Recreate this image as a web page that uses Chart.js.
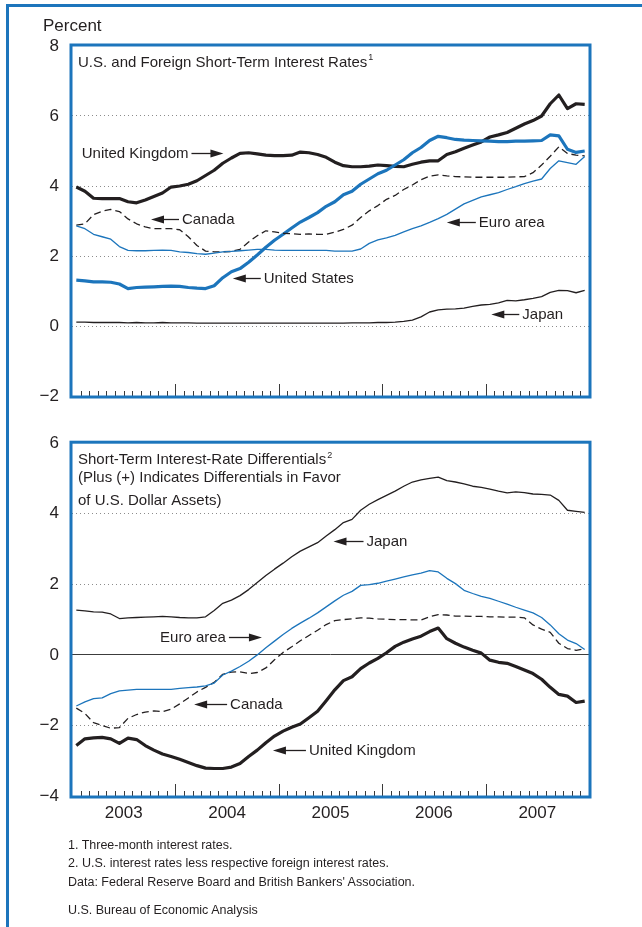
<!DOCTYPE html>
<html>
<head>
<meta charset="utf-8">
<title>U.S. and Foreign Short-Term Interest Rates</title>
<script src="https://cdn.jsdelivr.net/npm/chart.js@4.4.1/dist/chart.umd.min.js"></script>
<style>
  body { margin: 0; background: #fff; }
  #page { position: relative; width: 642px; height: 927px; overflow: hidden; font-family: "Liberation Sans", Arial, Helvetica, sans-serif; color: #231f20; }
  #frame { position: absolute; left: 6px; top: 4px; width: 700px; height: 1000px; border: 3px solid #1c75bc; }
  .txt { position: absolute; white-space: nowrap; }
  canvas { position: absolute; left: 0; }
</style>
</head>
<body>
<div id="page">
  <div id="frame"></div>
  <canvas id="rates-canvas" width="642" height="420" style="top:0"></canvas>
  <canvas id="diff-canvas" width="642" height="420" style="top:420px"></canvas>
  <div class="txt" style="left:43px; top:17px; font-size:17px; line-height:17px;">Percent</div>
  <div class="txt" style="left:68px; top:838px; font-size:12.5px; line-height:14px;">1. Three-month interest rates.</div>
  <div class="txt" style="left:68px; top:856px; font-size:12.5px; line-height:14px;">2. U.S. interest rates less respective foreign interest rates.</div>
  <div class="txt" style="left:68px; top:875px; font-size:12.5px; line-height:14px;">Data: Federal Reserve Board and British Bankers' Association.</div>
  <div class="txt" style="left:68px; top:903px; font-size:12.5px; line-height:14px;">U.S. Bureau of Economic Analysis</div>
</div>
<script>
  "use strict";

  var BLUE = "#1c75bc";
  var INK = "#231f20";
  var FONT = '"Liberation Sans", Arial, Helvetica, sans-serif';

  //-----------------------
  //- DATA (monthly, Jan 2003 - Dec 2007)
  //-----------------------

  var years = ["2003", "2004", "2005", "2006", "2007"];

  // three-month interest rates, percent
  var ukRate = [3.97, 3.85, 3.65, 3.64, 3.64, 3.64, 3.55, 3.52, 3.6, 3.7, 3.8, 3.97,
    4.0, 4.05, 4.15, 4.3, 4.45, 4.65, 4.8, 4.93, 4.95, 4.92, 4.88, 4.87,
    4.87, 4.88, 4.97, 4.95, 4.9, 4.82, 4.68, 4.58, 4.55, 4.55, 4.57, 4.6,
    4.58, 4.56, 4.55, 4.62, 4.68, 4.72, 4.72, 4.9, 4.98, 5.08, 5.17, 5.26,
    5.4, 5.46, 5.53, 5.65, 5.77, 5.87, 6.0, 6.35, 6.6, 6.21, 6.35, 6.33];
  var usRate = [1.31, 1.29, 1.26, 1.26, 1.25, 1.2, 1.07, 1.1, 1.11, 1.12, 1.13, 1.14,
    1.13, 1.1, 1.08, 1.07, 1.15, 1.38, 1.55, 1.64, 1.82, 2.03, 2.25, 2.45,
    2.62, 2.8, 2.97, 3.1, 3.24, 3.42, 3.55, 3.75, 3.85, 4.05, 4.2, 4.35,
    4.45, 4.6, 4.75, 4.95, 5.1, 5.3, 5.42, 5.38, 5.33, 5.31, 5.3, 5.29,
    5.28, 5.27, 5.27, 5.28, 5.28, 5.29, 5.3, 5.46, 5.43, 5.05, 4.96, 5.0];
  var canadaRate = [2.88, 2.92, 3.18, 3.28, 3.33, 3.27, 3.06, 2.92, 2.83, 2.78, 2.78, 2.78,
    2.75, 2.55, 2.3, 2.14, 2.12, 2.12, 2.13, 2.19, 2.4, 2.58, 2.72, 2.69,
    2.65, 2.64, 2.62, 2.63, 2.62, 2.62, 2.68, 2.76, 2.88, 3.1, 3.29, 3.44,
    3.62, 3.73, 3.9, 4.03, 4.18, 4.28, 4.32, 4.29, 4.27, 4.26, 4.25, 4.25,
    4.25, 4.25, 4.25, 4.26, 4.27, 4.38, 4.6, 4.85, 5.12, 4.93, 4.88, 4.86];
  var euroRate = [2.86, 2.78, 2.62, 2.55, 2.48, 2.27, 2.16, 2.15, 2.15, 2.16, 2.17, 2.16,
    2.12, 2.1, 2.07, 2.05, 2.08, 2.12, 2.13, 2.15, 2.17, 2.19, 2.19, 2.17,
    2.16, 2.16, 2.16, 2.16, 2.16, 2.16, 2.14, 2.14, 2.14, 2.2, 2.36, 2.46,
    2.52, 2.59, 2.69, 2.78, 2.86, 2.96, 3.07, 3.19, 3.34, 3.49, 3.59, 3.69,
    3.75, 3.81, 3.9, 3.98, 4.07, 4.14, 4.2, 4.5, 4.72, 4.67, 4.62, 4.84];
  var japanRate = [0.11, 0.11, 0.1, 0.1, 0.1, 0.1, 0.09, 0.1, 0.09, 0.09, 0.1, 0.09,
    0.09, 0.09, 0.08, 0.08, 0.08, 0.08, 0.08, 0.08, 0.08, 0.08, 0.08, 0.08,
    0.08, 0.08, 0.08, 0.08, 0.08, 0.08, 0.08, 0.08, 0.09, 0.09, 0.09, 0.1,
    0.1, 0.11, 0.13, 0.17, 0.26, 0.4, 0.46, 0.48, 0.49, 0.51, 0.56, 0.6,
    0.62, 0.66, 0.73, 0.72, 0.75, 0.79, 0.84, 0.96, 1.02, 1.01, 0.95, 1.02];

  // U.S. rate less foreign rate, percentage points
  var japanDiff = [1.27, 1.25, 1.22, 1.21, 1.16, 1.03, 1.05, 1.06, 1.07, 1.08, 1.09, 1.08,
    1.06, 1.05, 1.05, 1.08, 1.26, 1.46, 1.55, 1.68, 1.85, 2.05, 2.25, 2.43,
    2.6, 2.78, 2.94, 3.06, 3.18, 3.37, 3.55, 3.75, 3.84, 4.1, 4.27, 4.4,
    4.52, 4.64, 4.78, 4.9, 4.96, 5.0, 5.04, 4.94, 4.9, 4.85, 4.78, 4.75,
    4.7, 4.64, 4.59, 4.62, 4.6, 4.56, 4.55, 4.53, 4.38, 4.1, 4.07, 4.04];
  var euroDiff = [-1.45, -1.33, -1.24, -1.22, -1.1, -1.02, -1.0, -0.98, -0.98, -0.98, -0.98, -0.98,
    -0.95, -0.93, -0.91, -0.88, -0.8, -0.57, -0.46, -0.33, -0.18, 0.0, 0.2, 0.39,
    0.58, 0.75, 0.9, 1.04, 1.19, 1.36, 1.53, 1.69, 1.8, 1.97, 1.99, 2.03,
    2.09, 2.15, 2.21, 2.27, 2.32, 2.39, 2.35, 2.17, 2.02, 1.83, 1.74, 1.66,
    1.6, 1.52, 1.44, 1.35, 1.27, 1.19, 1.06, 0.85, 0.6, 0.42, 0.32, 0.15];
  var canadaDiff = [-1.51, -1.66, -1.92, -2.0, -2.08, -2.06, -1.8, -1.69, -1.62, -1.59, -1.61, -1.54,
    -1.39, -1.22, -1.05, -0.92, -0.78, -0.55, -0.49, -0.48, -0.53, -0.5, -0.37, -0.14,
    0.07, 0.23, 0.4, 0.55, 0.7, 0.86, 0.97, 1.0, 1.02, 1.05, 1.04, 1.02,
    1.01, 1.0, 1.0, 0.99, 0.99, 1.08, 1.14, 1.13, 1.1, 1.1, 1.09, 1.09,
    1.08, 1.08, 1.07, 1.07, 1.05, 0.85, 0.73, 0.64, 0.33, 0.18, 0.13, 0.17];
  var ukDiff = [-2.57, -2.38, -2.35, -2.34, -2.38, -2.51, -2.36, -2.4, -2.57, -2.7, -2.81, -2.88,
    -2.96, -3.05, -3.14, -3.21, -3.22, -3.22, -3.18, -3.08, -2.88, -2.7, -2.49, -2.3,
    -2.16, -2.05, -1.96, -1.78, -1.6, -1.3, -0.99, -0.73, -0.62, -0.39, -0.23, -0.1,
    0.06, 0.24, 0.36, 0.45, 0.53, 0.66, 0.76, 0.46, 0.33, 0.22, 0.13, 0.05,
    -0.15, -0.21, -0.24, -0.33, -0.43, -0.53, -0.69, -0.92, -1.12, -1.17, -1.35, -1.31];

  //-----------------------
  //- HELPERS
  //-----------------------

  // each month sits in the middle of its slot on a 0..60 month axis
  function monthly(values) {
    return values.map(function (v, i) {
      return { x: i + 0.5, y: v };
    });
  }

  function series(label, values, color, width, dash) {
    return {
      label: label,
      data: monthly(values),
      borderColor: color,
      borderWidth: width,
      borderDash: dash || [],
      borderJoinStyle: "round",
      pointRadius: 0,
      tension: 0,
      fill: false,
    };
  }

  function yAxis(min, max, dotted, solid) {
    return {
      min: min,
      max: max,
      afterFit: function (scale) {
        scale.width = 72;
      },
      ticks: {
        stepSize: 2,
        padding: 13,
        color: INK,
        font: { family: FONT, size: 17 },
        callback: function (v) {
          return v < 0 ? "\u2212" + Math.abs(v) : v;
        },
      },
      grid: {
        drawTicks: false,
        lineWidth: 1,
        color: function (c) {
          if (!c.tick) return "transparent";
          if (c.tick.value === solid) return "#3c3c3c";
          return dotted.indexOf(c.tick.value) >= 0 ? "#8c8c8c" : "transparent";
        },
      },
      border: {
        display: false,
        dash: function (c) {
          return c.tick && c.tick.value === solid ? [] : [1, 3];
        },
      },
    };
  }

  function monthAxis(height, withYears) {
    return {
      type: "linear",
      min: 0,
      max: years.length * 12,
      afterFit: function (scale) {
        scale.height = height;
      },
      afterBuildTicks: function (scale) {
        scale.ticks = years.map(function (y, i) {
          return { value: i * 12 + 6 };
        });
      },
      ticks: {
        display: withYears,
        autoSkip: false,
        maxRotation: 0,
        padding: 7,
        color: INK,
        font: { family: FONT, size: 17 },
        callback: function (v, i) {
          return years[i];
        },
      },
      grid: { display: false, drawTicks: false },
      border: { display: false },
    };
  }

  // blue box, month ticks, title block and arrowed labels
  var decor = {
    id: "decor",
    afterDatasetsDraw: function (chart, args, opts) {
      var ctx = chart.ctx;
      var area = chart.chartArea;
      var xs = chart.scales.x;
      var ys = chart.scales.y;
      var total = years.length * 12;

      ctx.save();
      ctx.strokeStyle = "#3a3a3a";
      ctx.lineWidth = 1;
      for (var m = 1; m < total; m++) {
        var px = Math.round(xs.getPixelForValue(m)) + 0.5;
        var len = m % 12 === 0 ? 12 : 5;
        ctx.beginPath();
        ctx.moveTo(px, area.bottom);
        ctx.lineTo(px, area.bottom - len);
        ctx.stroke();
      }

      ctx.strokeStyle = BLUE;
      ctx.lineWidth = 3;
      ctx.strokeRect(area.left - 1, area.top - 1, area.right - area.left + 2, area.bottom - area.top + 2);

      ctx.fillStyle = INK;
      ctx.textAlign = "left";
      ctx.textBaseline = "middle";
      (opts.title || []).forEach(function (t) {
        var tx = area.left + 6;
        var ty = area.top + t.dy;
        ctx.font = "15px " + FONT;
        ctx.fillText(t.text, tx, ty);
        if (t.sup) {
          var w = ctx.measureText(t.text).width;
          ctx.font = "9px " + FONT;
          ctx.fillText(t.sup, tx + w + 1, ty - 5);
        }
      });

      (opts.notes || []).forEach(function (n) {
        var x = xs.getPixelForValue(n.x);
        var y = Math.round(ys.getPixelForValue(n.y)) + 0.5;
        ctx.font = "15px " + FONT;
        var w = ctx.measureText(n.text).width;
        var tip, tail, textX, s;
        if (n.dir === "left") {
          tip = x;
          tail = x + n.len;
          textX = tail + 3;
          s = 1;
        } else {
          textX = x;
          tail = x + w + 3;
          tip = tail + n.len;
          s = -1;
        }
        ctx.fillText(n.text, textX, y);
        ctx.strokeStyle = INK;
        ctx.lineWidth = 1.3;
        ctx.beginPath();
        ctx.moveTo(tail, y);
        ctx.lineTo(tip + s * 6, y);
        ctx.stroke();
        ctx.beginPath();
        ctx.moveTo(tip, y);
        ctx.lineTo(tip + s * 13, y - 4);
        ctx.lineTo(tip + s * 13, y + 4);
        ctx.closePath();
        ctx.fill();
      });
      ctx.restore();
    },
  };

  //-----------------------
  //- INTEREST RATES CHART -
  //-----------------------

  var ratesCanvas = document.getElementById("rates-canvas");

  var ratesChart = new Chart(ratesCanvas, {
    type: "line",
    data: {
      datasets: [
        series("Japan", japanRate, INK, 1.3),
        series("Euro area", euroRate, BLUE, 1.3),
        series("Canada", canadaRate, INK, 1.3, [7, 4]),
        series("United States", usRate, BLUE, 3.2),
        series("United Kingdom", ukRate, INK, 3.2),
      ],
    },
    options: {
      responsive: false,
      animation: false,
      layout: { padding: { top: 46, right: 53, bottom: 0, left: 0 } },
      plugins: {
        legend: { display: false },
        tooltip: { enabled: false },
        decor: {
          title: [{ text: "U.S. and Foreign Short-Term Interest Rates", sup: "1", dy: 17 }],
          notes: [
            { text: "United Kingdom", dir: "right", x: 1.13, y: 4.93, len: 32 },
            { text: "Canada", dir: "left", x: 9.17, y: 3.05, len: 28 },
            { text: "United States", dir: "left", x: 18.66, y: 1.37, len: 28 },
            { text: "Euro area", dir: "left", x: 43.5, y: 2.96, len: 29 },
            { text: "Japan", dir: "left", x: 48.66, y: 0.34, len: 28 },
          ],
        },
      },
      scales: {
        x: monthAxis(24, false),
        y: yAxis(-2, 8, [0, 2, 4, 6], null),
      },
    },
    plugins: [decor],
  });

  //-----------------------
  //- DIFFERENTIALS CHART -
  //-----------------------

  var diffCanvas = document.getElementById("diff-canvas");

  var diffChart = new Chart(diffCanvas, {
    type: "line",
    data: {
      datasets: [
        series("Japan", japanDiff, INK, 1.3),
        series("Euro area", euroDiff, BLUE, 1.3),
        series("Canada", canadaDiff, INK, 1.3, [7, 4]),
        series("United Kingdom", ukDiff, INK, 3.2),
      ],
    },
    options: {
      responsive: false,
      animation: false,
      layout: { padding: { top: 21, right: 53, bottom: 0, left: 0 } },
      plugins: {
        legend: { display: false },
        tooltip: { enabled: false },
        decor: {
          title: [
            { text: "Short-Term Interest-Rate Differentials", sup: "2", dy: 17 },
            { text: "(Plus (+) Indicates Differentials in Favor", dy: 35 },
            { text: "of U.S. Dollar Assets)", dy: 58 },
          ],
          notes: [
            { text: "Japan", dir: "left", x: 30.35, y: 3.24, len: 30 },
            { text: "Euro area", dir: "right", x: 10.22, y: 0.5, len: 33 },
            { text: "Canada", dir: "left", x: 14.17, y: -1.4, len: 33 },
            { text: "United Kingdom", dir: "left", x: 23.32, y: -2.7, len: 33 },
          ],
        },
      },
      scales: {
        x: monthAxis(44, true),
        y: yAxis(-4, 6, [-2, 2, 4], 0),
      },
    },
    plugins: [decor],
  });
</script>
</body>
</html>
